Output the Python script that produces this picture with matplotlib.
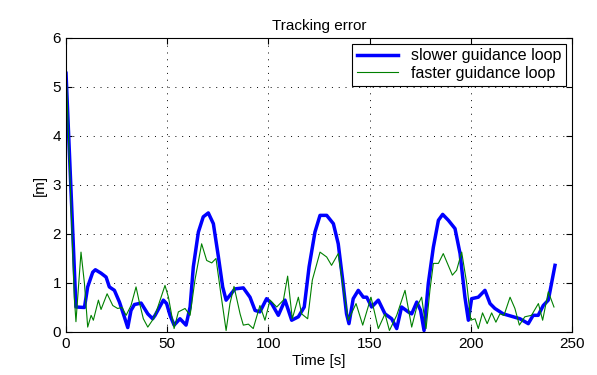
import matplotlib
matplotlib.use('Agg')
import matplotlib.pyplot as plt

plt.rcParams['font.family'] = ['Liberation Sans', 'DejaVu Sans']

# slower guidance loop
t_slow = [0, 3.3, 4.9, 9.1, 10.7, 13.2, 14.5, 17.3, 19.8, 21.4, 23.9, 26.4, 28.8, 30.5,
          32.1, 33.8, 37.1, 40.4, 42.8, 44, 48.1, 49.7, 51.4, 53.4, 56.3, 59.3, 61.3,
          62.9, 65.4, 67.8, 70.3, 72.8, 75.3, 77.4, 79.1, 81, 83.5, 87.6, 90.9, 93.4,
          95.8, 99.1, 101.6, 104.9, 108.2, 111.5, 114.8, 117.7, 120.1, 123, 125.5,
          128.8, 132.1, 134.5, 136.7, 138.6, 139.8, 141.9, 144.4, 146.9, 148.6, 151,
          154.3, 157.6, 160.9, 163.4, 165.8, 169.1, 170.8, 173.3, 175.2, 176.9, 179,
          181.5, 184, 186.1, 188.9, 192.2, 194.7, 197.1, 198.8, 200.4, 203.7, 207,
          209.5, 211.9, 216, 221, 224.3, 228.4, 230.8, 233.3, 235.8, 238.3, 241.6]
e_slow = [5.28, 2.07, 0.51, 0.50, 0.92, 1.22, 1.27, 1.2, 1.12, 0.92, 0.85, 0.61, 0.31, 0.09,
          0.44, 0.56, 0.59, 0.37, 0.27, 0.34, 0.65, 0.58, 0.34, 0.14, 0.27, 0.14, 0.51,
          1.33, 2.04, 2.35, 2.43, 2.21, 1.53, 0.92, 0.65, 0.75, 0.88, 0.9, 0.71, 0.44,
          0.41, 0.68, 0.58, 0.34, 0.65, 0.24, 0.31, 0.51, 1.33, 2.04, 2.38,
          2.38, 2.21, 1.8, 1.06, 0.37, 0.17, 0.68, 0.85, 0.71, 0.71, 0.51,
          0.65, 0.37, 0.27, 0.07, 0.51, 0.41, 0.37, 0.61, 0.44, 0.03, 0.99,
          1.73, 2.28, 2.40, 2.28, 2.11, 1.6, 0.71, 0.24, 0.68, 0.71, 0.85,
          0.58, 0.48, 0.37, 0.31, 0.27, 0.17, 0.34, 0.34, 0.54, 0.65, 1.36]

# faster guidance loop
t_fast = [0, 4.1, 4.9, 7.4, 9.1, 10.7, 12.4, 13.5, 16, 17.3, 20.3, 23.1, 25.5, 27.7, 29.7,
          32.1, 34.6, 36.2, 38.2, 40.4, 43.2, 44.8, 48.9, 50.6, 53.4, 55.5, 58.8, 61.3,
          63.7, 67, 69.5, 72, 74.1, 76.5, 79.1, 81, 83, 86, 87.6, 90.1, 92.5, 95.8,
          98.3, 100.8, 104.1, 107.4, 109.5, 111.8, 114.8, 116.4, 119.4, 121.7, 125.5,
          128.8, 131.2, 134.5, 136.9, 139.5, 143.3, 146.6, 150.7, 154.3, 157.6, 159.8,
          163.4, 167.5, 170.8, 173.3, 175.7, 177.9, 179.8, 181.5, 184, 186.4, 190.9,
          193, 195.5, 198, 200, 202.1, 203.7, 205.8, 208.1, 210.3, 212.4, 214.4, 216.4,
          219.4, 221.8, 224, 226.7, 230, 233.4, 235.5, 238.3, 241.1]
e_fast = [5.38, 0.71, 0.21, 1.63, 0.99, 0.1, 0.34, 0.24, 0.65, 0.46, 0.78, 0.54, 0.48, 0.5, 0.34,
          0.54, 0.92, 0.61, 0.27, 0.1, 0.27, 0.44, 0.95, 0.71, 0.07, 0.41, 0.48, 0.34,
          1.06, 1.8, 1.46, 1.41, 1.5, 0.78, 0.03, 0.58, 0.93, 0.37, 0.14, 0.16, 0.07, 0.54,
          0.24, 0.65, 0.51, 0.65, 1.14, 0.27, 0.71, 0.37, 0.27, 1.06, 1.63,
          1.53, 1.36, 1.6, 0.92, 0.24, 0.58, 0.14, 0.71, 0.07, 0.37, 0.03,
          0.34, 0.85, 0.1, 0.51, 0.71, 0.07, 0.85, 1.4, 1.4, 1.6, 1.16,
          1.26, 1.63, 0.99, 0.24, 0.27, 0.07, 0.39, 0.17, 0.39, 0.2, 0.37, 0.34,
          0.71, 0.48, 0.14, 0.31, 0.34, 0.58, 0.24, 0.82, 0.51]

fig = plt.figure(figsize=(5.97, 3.75), dpi=100)
ax = fig.add_axes([0.1106, 0.1147, 0.8475, 0.784])
ax.plot(t_slow, e_slow, color='#0000ff', linewidth=2.5, solid_joinstyle='round',
        label='slower guidance loop')
ax.plot(t_fast, e_fast, color='#008000', linewidth=0.8, solid_joinstyle='round',
        label='faster guidance loop')
ax.set_xlim(0, 250)
ax.set_ylim(0, 6)
ax.set_xticks([0, 50, 100, 150, 200, 250])
ax.set_yticks([0, 1, 2, 3, 4, 5, 6])
ax.grid(True, color='black', linestyle=(0, (1, 6)), linewidth=0.7)
ax.tick_params(direction='in', top=True, right=True, labelsize=11, length=4)
ax.set_xlabel('Time [s]', fontsize=11, labelpad=2)
ax.set_ylabel('[m]', fontsize=11)
ax.set_title('Tracking error', fontsize=11)
leg = ax.legend(loc='upper right', fontsize=11.5, fancybox=False, framealpha=1,
                edgecolor='black', borderaxespad=0.35, handlelength=2.6,
                borderpad=0.3, labelspacing=0.15)
leg.get_frame().set_linewidth(0.8)
plt.savefig('out.png', dpi=100)
